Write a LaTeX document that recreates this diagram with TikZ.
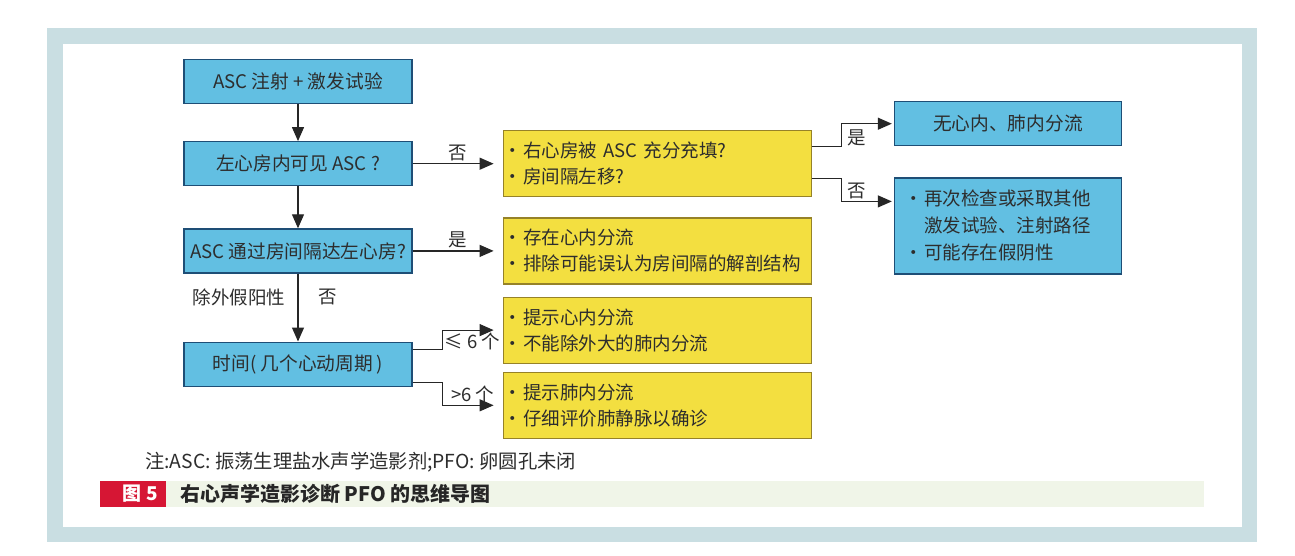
\documentclass[tikz,border=0pt]{standalone}
\usepackage{fontspec}
\setmainfont{Noto Sans CJK SC}
\usepackage{xcolor}
\usepackage{tikz}
\usetikzlibrary{arrows.meta,positioning,calc}
\definecolor{framegray}{RGB}{201,222,226}
\definecolor{cyanbox}{RGB}{98,191,226}
\definecolor{cyanedge}{RGB}{30,78,118}
\definecolor{yelbox}{RGB}{243,223,64}
\definecolor{yeledge}{RGB}{150,130,40}
\definecolor{inkgray}{RGB}{45,45,45}
\definecolor{capred}{RGB}{214,22,52}
\definecolor{capgreen}{RGB}{240,245,232}
\newcommand{\dotitem}{\makebox[12pt][l]{\hspace*{-8pt}·}}
\tikzset{
  qbox/.style={rectangle,draw=cyanedge,line width=1.2pt,fill=cyanbox,text=inkgray,
              minimum width=228pt,minimum height=44pt,inner sep=2pt,align=center,
              font=\fontsize{18.7}{24}\selectfont},
  ybox/.style={rectangle,draw=yeledge,line width=1.2pt,fill=yelbox,text=inkgray,
              minimum width=308pt,minimum height=66pt,text width=292pt,inner xsep=8pt,
              align=left,font=\fontsize{18.5}{26}\selectfont},
  lbl/.style={text=inkgray,font=\fontsize{18.5}{22}\selectfont,inner sep=2pt},
  flow/.style={-{Triangle[length=14pt,width=12pt]},line width=1.2pt,draw=black!85},
}
\begin{document}
\begin{tikzpicture}[x=1pt,y=-1pt]
  \useasboundingbox (0,0) rectangle (1295,555);
  % frame
  \fill[framegray] (47,28) rectangle (1257,542);
  \fill[white] (63,44) rectangle (1242,527);

  \node[qbox] (inject) at (298,81.5) {ASC 注射 + 激发试验};
  \node[qbox,below=37pt of inject] (lavis) {左心房内可见 ASC ?};
  \node[qbox,below=42pt of lavis] (cross) {ASC 通过房间隔达左心房?};
  \node[qbox,below=68pt of cross] (timing) {时间( 几个心动周期 )};

  \node[ybox,right=90pt of lavis] (fill) {\dotitem 右心房被 ASC 充分充填?\\\dotitem 房间隔左移?};
  \node[ybox,right=90pt of cross] (shunt) {\dotitem 存在心内分流\\\dotitem 排除可能误认为房间隔的解剖结构};
  \node[ybox,below=12pt of shunt] (heart) {\dotitem 提示心内分流\\\dotitem 不能除外大的肺内分流};
  \node[ybox,below=8pt of heart] (lung) {\dotitem 提示肺内分流\\\dotitem 仔细评价肺静脉以确诊};

  \node[qbox,minimum width=227pt,right=82pt of fill,yshift=40pt] (noshunt) {无心内、肺内分流};
  \node[qbox,minimum width=227pt,minimum height=96pt,text width=191pt,inner xsep=18pt,
        align=left,font=\fontsize{18.5}{27}\selectfont,below=31pt of noshunt] (recheck)
        {\dotitem 再次检查或采取其他\\\hspace*{12pt}激发试验、注射路径\\\dotitem 可能存在假阴性};

  \draw[flow] (inject) -- (lavis);
  \draw[flow] (lavis) -- (cross);
  \draw[flow] (cross) -- node[lbl,pos=0.35,left=10pt]{除外假阳性} node[lbl,pos=0.35,right=18pt]{否} (timing);
  \draw[flow,shorten >=9pt] (lavis) -- node[lbl,above]{否} (fill);
  \draw[flow,shorten >=9pt] (cross) -- node[lbl,above]{是} (shunt);
  \draw[flow,shorten >=9pt] ([yshift=15pt]timing.east) -- ++(30,0) |- node[lbl,pos=0.75,below]{≤ 6 个} (heart);
  \draw[flow,shorten >=9pt] ([yshift=-18pt]timing.east) -- ++(30,0) |- node[lbl,pos=0.75,above]{>6 个} (lung);
  \draw[flow,shorten >=2pt] ([yshift=17.5pt]fill.east) -- ++(30,0) |- node[lbl,pos=0.64,below=3pt]{是} (noshunt);
  \draw[flow,shorten >=2pt] ([yshift=-14.5pt]fill.east) -- ++(30,0) |- node[lbl,pos=0.64,above]{否} ([yshift=24.5pt]recheck.west);

  % note and caption
  \node[lbl,anchor=west,font=\fontsize{19.3}{20}\selectfont] (footnote) at (143,462) {注:ASC: 振荡生理盐水声学造影剂;PFO: 卵圆孔未闭};
  \fill[capred] (100,481) rectangle (166,507);
  \fill[capgreen] (166,481) rectangle (1204,507);
  \node[anchor=east,text=white,inner sep=2pt,font=\fontsize{19}{22}\selectfont\bfseries] (fignum) at (160,494) {图 5};
  \node[anchor=west,text=black!85,inner sep=2pt,font=\fontsize{20}{22}\selectfont\bfseries] (figtitle) at (178,494) {右心声学造影诊断 PFO 的思维导图};
\end{tikzpicture}
\end{document}
